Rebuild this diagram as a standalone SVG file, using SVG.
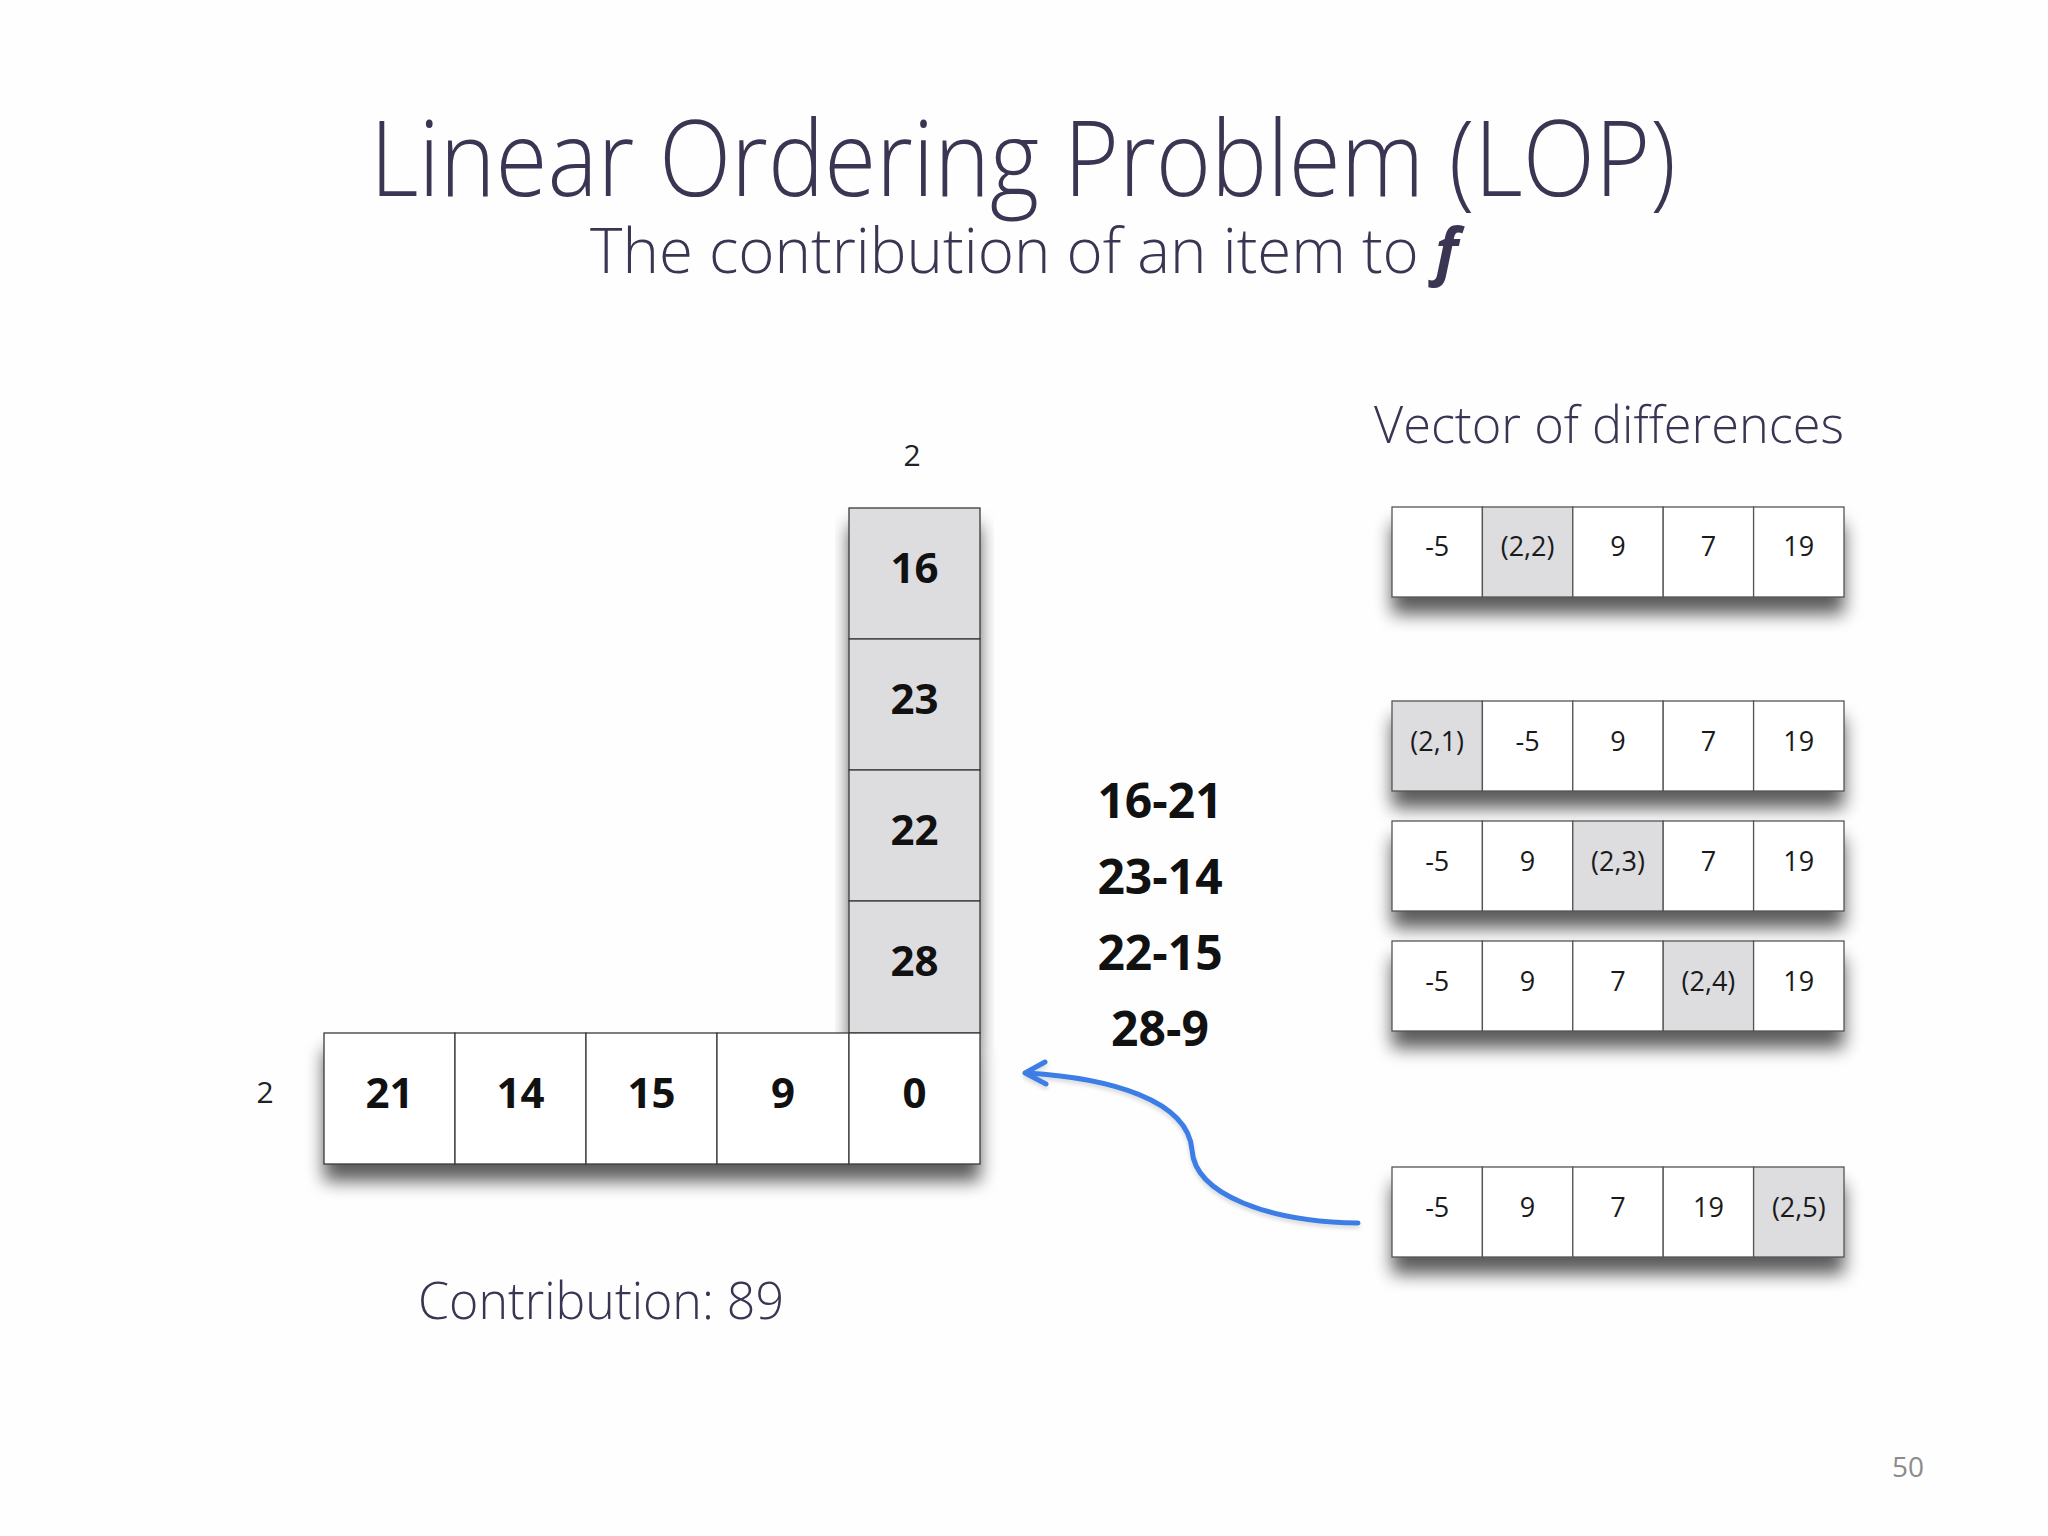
<svg xmlns="http://www.w3.org/2000/svg" width="2048" height="1536" viewBox="0 0 2048 1536">
<defs>
<filter id="sh" x="-10%" y="-30%" width="120%" height="180%">
<feGaussianBlur in="SourceAlpha" stdDeviation="9"/>
<feOffset dx="0" dy="17" result="b"/>
<feComponentTransfer><feFuncA type="linear" slope="0.65"/></feComponentTransfer>
<feMerge><feMergeNode/><feMergeNode in="SourceGraphic"/></feMerge>
</filter>
<filter id="ash" x="-10%" y="-20%" width="120%" height="160%">
<feGaussianBlur in="SourceAlpha" stdDeviation="2"/>
<feOffset dx="0" dy="3"/>
<feComponentTransfer><feFuncA type="linear" slope="0.15"/></feComponentTransfer>
<feMerge><feMergeNode/><feMergeNode in="SourceGraphic"/></feMerge>
</filter>
</defs>
<style>
.ttl{font-family:"Open Sans","Noto Sans",sans-serif;font-weight:350;fill:#3b3452}
.c{fill:#ffffff;stroke:#3a3a3a;stroke-width:1.3}
.g{fill:#dddcdf;stroke:#3a3a3a;stroke-width:1.3}
.vc{fill:#ffffff;stroke:#555;stroke-width:1.3}
.vg{fill:#dddcdf;stroke:#555;stroke-width:1.3}
.bn{font-family:"Open Sans","Noto Sans",sans-serif;font-weight:700;font-size:42px;fill:#111;text-anchor:middle}
.vn{font-family:"Open Sans","Noto Sans",sans-serif;font-size:27px;fill:#1a1a1a;text-anchor:middle}
.lab{font-family:"Open Sans","Noto Sans",sans-serif;font-size:30px;fill:#222;text-anchor:middle}
.df{font-family:"Open Sans","Noto Sans",sans-serif;font-weight:700;font-size:48px;fill:#111;text-anchor:middle}
.arr{fill:none;stroke:#3d7ee6;stroke-width:5;stroke-linecap:round;stroke-linejoin:round}
</style>
<rect width="2048" height="1536" fill="#fefefe"/>
<g id="title">
<text class="ttl" x="370" y="196" font-size="106" textLength="1306" lengthAdjust="spacingAndGlyphs">Linear Ordering Problem (LOP)</text>
<text class="ttl" x="590" y="273" font-size="62" textLength="868" lengthAdjust="spacingAndGlyphs">The contribution of an item to <tspan font-style="italic" font-weight="700">f</tspan></text>
</g>
<g id="column">
<rect x="849" y="508" width="131" height="525" fill="#dddcdf" filter="url(#sh)"/>
<rect class="g" x="849" y="508" width="131" height="131"/>
<rect class="g" x="849" y="639" width="131" height="131"/>
<rect class="g" x="849" y="770" width="131" height="131"/>
<rect class="g" x="849" y="901" width="131" height="132"/>
<text class="bn" x="914.5" y="583">16</text>
<text class="bn" x="914.5" y="714">23</text>
<text class="bn" x="914.5" y="845">22</text>
<text class="bn" x="914.5" y="976">28</text>
<text class="lab" x="912" y="466">2</text>
</g>
<g id="row">
<rect x="324" y="1033" width="656" height="131" fill="#ffffff" filter="url(#sh)"/>
<rect class="c" x="324" y="1033" width="131" height="131"/>
<rect class="c" x="455" y="1033" width="131" height="131"/>
<rect class="c" x="586" y="1033" width="131" height="131"/>
<rect class="c" x="717" y="1033" width="132" height="131"/>
<rect class="c" x="849" y="1033" width="131" height="131"/>
<text class="bn" x="389.5" y="1108">21</text>
<text class="bn" x="520.5" y="1108">14</text>
<text class="bn" x="651.5" y="1108">15</text>
<text class="bn" x="783" y="1108">9</text>
<text class="bn" x="914.5" y="1108">0</text>
<text class="lab" x="265" y="1103">2</text>
</g>
<g id="differences">
<text class="df" x="1160" y="818">16-21</text>
<text class="df" x="1160" y="894">23-14</text>
<text class="df" x="1160" y="970">22-15</text>
<text class="df" x="1160" y="1046">28-9</text>
</g>
<g id="contribution">
<text class="ttl" x="418" y="1319" font-size="52" textLength="366" lengthAdjust="spacingAndGlyphs">Contribution: 89</text>
</g>
<g id="vector-title">
<text class="ttl" x="1374" y="443" font-size="52" textLength="470" lengthAdjust="spacingAndGlyphs">Vector of differences</text>
</g>
<g id="v1">
<rect x="1392" y="507" width="452" height="90" fill="#fff" filter="url(#sh)"/>
<rect class="vc" x="1392" y="507" width="90.4" height="90"/>
<rect class="vg" x="1482.4" y="507" width="90.4" height="90"/>
<rect class="vc" x="1572.8" y="507" width="90.4" height="90"/>
<rect class="vc" x="1663.2" y="507" width="90.4" height="90"/>
<rect class="vc" x="1753.6" y="507" width="90.4" height="90"/>
<text class="vn" x="1437.2" y="556">-5</text>
<text class="vn" x="1527.6" y="556">(2,2)</text>
<text class="vn" x="1618" y="556">9</text>
<text class="vn" x="1708.4" y="556">7</text>
<text class="vn" x="1798.8" y="556">19</text>
</g>
<g id="v2">
<rect x="1392" y="701" width="452" height="90" fill="#fff" filter="url(#sh)"/>
<rect class="vg" x="1392" y="701" width="90.4" height="90"/>
<rect class="vc" x="1482.4" y="701" width="90.4" height="90"/>
<rect class="vc" x="1572.8" y="701" width="90.4" height="90"/>
<rect class="vc" x="1663.2" y="701" width="90.4" height="90"/>
<rect class="vc" x="1753.6" y="701" width="90.4" height="90"/>
<text class="vn" x="1437.2" y="751">(2,1)</text>
<text class="vn" x="1527.6" y="751">-5</text>
<text class="vn" x="1618" y="751">9</text>
<text class="vn" x="1708.4" y="751">7</text>
<text class="vn" x="1798.8" y="751">19</text>
</g>
<g id="v3">
<rect x="1392" y="821" width="452" height="90" fill="#fff" filter="url(#sh)"/>
<rect class="vc" x="1392" y="821" width="90.4" height="90"/>
<rect class="vc" x="1482.4" y="821" width="90.4" height="90"/>
<rect class="vg" x="1572.8" y="821" width="90.4" height="90"/>
<rect class="vc" x="1663.2" y="821" width="90.4" height="90"/>
<rect class="vc" x="1753.6" y="821" width="90.4" height="90"/>
<text class="vn" x="1437.2" y="871">-5</text>
<text class="vn" x="1527.6" y="871">9</text>
<text class="vn" x="1618" y="871">(2,3)</text>
<text class="vn" x="1708.4" y="871">7</text>
<text class="vn" x="1798.8" y="871">19</text>
</g>
<g id="v4">
<rect x="1392" y="941" width="452" height="90" fill="#fff" filter="url(#sh)"/>
<rect class="vc" x="1392" y="941" width="90.4" height="90"/>
<rect class="vc" x="1482.4" y="941" width="90.4" height="90"/>
<rect class="vc" x="1572.8" y="941" width="90.4" height="90"/>
<rect class="vg" x="1663.2" y="941" width="90.4" height="90"/>
<rect class="vc" x="1753.6" y="941" width="90.4" height="90"/>
<text class="vn" x="1437.2" y="991">-5</text>
<text class="vn" x="1527.6" y="991">9</text>
<text class="vn" x="1618" y="991">7</text>
<text class="vn" x="1708.4" y="991">(2,4)</text>
<text class="vn" x="1798.8" y="991">19</text>
</g>
<g id="v5">
<rect x="1392" y="1167" width="452" height="90" fill="#fff" filter="url(#sh)"/>
<rect class="vc" x="1392" y="1167" width="90.4" height="90"/>
<rect class="vc" x="1482.4" y="1167" width="90.4" height="90"/>
<rect class="vc" x="1572.8" y="1167" width="90.4" height="90"/>
<rect class="vc" x="1663.2" y="1167" width="90.4" height="90"/>
<rect class="vg" x="1753.6" y="1167" width="90.4" height="90"/>
<text class="vn" x="1437.2" y="1217">-5</text>
<text class="vn" x="1527.6" y="1217">9</text>
<text class="vn" x="1618" y="1217">7</text>
<text class="vn" x="1708.4" y="1217">19</text>
<text class="vn" x="1798.8" y="1217">(2,5)</text>
</g>
<g id="connectors" filter="url(#ash)">
<path class="arr" d="M1358,1223 C1270,1222 1195,1195 1192,1150 C1188,1100 1110,1078 1027,1073"/>
<path class="arr" d="M1045,1062 L1025,1073 L1046,1084"/>
</g>
<g id="page">
<text x="1908" y="1477" font-family="'Open Sans','Noto Sans',sans-serif" font-size="28" fill="#8c8c8c" text-anchor="middle">50</text>
</g>
</svg>
